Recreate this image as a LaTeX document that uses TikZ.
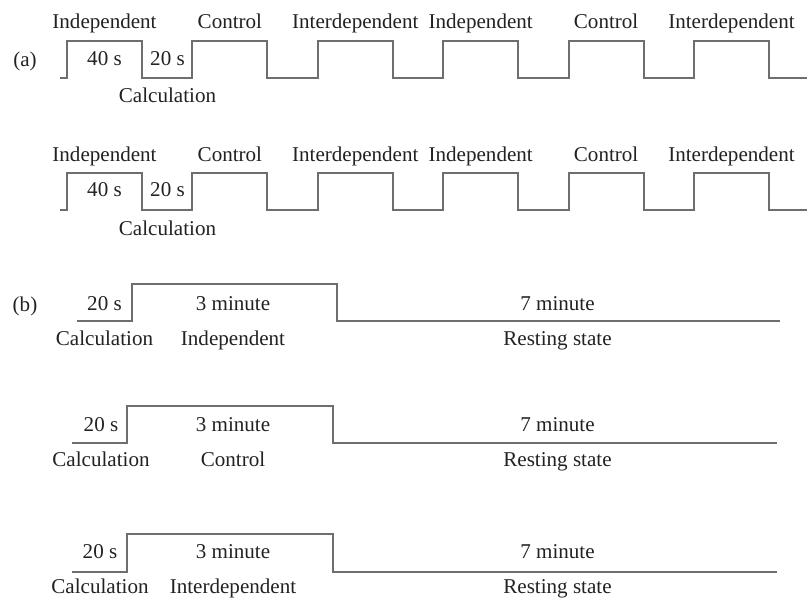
\documentclass[tikz,border=0pt]{standalone}
\usepackage{fontspec}
\setmainfont{Liberation Serif}
\usepackage{tikz}
\definecolor{wave}{HTML}{6E6E6E}
\definecolor{ink}{HTML}{222222}

\begin{document}
\begin{tikzpicture}[x=0.75pt,y=-0.75pt]
    \tikzstyle{n} = [inner sep=0pt,anchor=base,text=ink]
    \tikzstyle{w} = [draw=wave,line width=1.4pt]
    \tikzstyle{every node}=[font=\fontsize{15.8}{19}\selectfont]
    \useasboundingbox (0,0) rectangle (807,599);
    % (a): alternating blocks, two rows
    \node [n] (a) at (25,67) {(a)};
    \foreach \r/\yb/\yh/\yl/\ym/\yc in {1/78/41/28.3/66/103, 2/210/173/161.7/196.7/235} {
      \draw [w] (60,\yb) \foreach \k in {0,...,5} {
          -- ({67+125.4*\k},\yb) -- ({67+125.4*\k},\yh)
          -- ({142+125.4*\k},\yh) -- ({142+125.4*\k},\yb)} -- (807,\yb);
      \foreach \k/\lbl in {0/Independent,1/Control,2/Interdependent,3/Independent,4/Control,5/Interdependent}
        \node [n] (t\r\k) at ({104.5+125.4*\k},\yl) {\lbl};
      \node [n] (on\r) at (104.5,\ym) {40 s};
      \node [n] (off\r) at (167.5,\ym) {20 s};
      \node [n] (calc\r) at (167.5,\yc) {Calculation};
    }
    % (b): one block then rest
    \node [n] (b) at (25,311.7) {(b)};
    \foreach \r/\xs/\xu/\xd/\xe/\yb/\yh/\yl/\yc/\yr/\xc/\task in {
        1/77/132/337/780/321/284/310/345/345/104.5/Independent,
        2/72/127/333/777/443/406/431.7/466/466/101/Control,
        3/72/127/333/777/572/534/558/593/593/100/Interdependent} {
      \draw [w] (\xs,\yb) -- (\xu,\yb) -- (\xu,\yh) -- (\xd,\yh) -- (\xd,\yb) -- (\xe,\yb);
      \node [n] (pre\r) at (\xc,\yl) {20 s};
      \node [n] (calcb\r) at (\xc,\yc) {Calculation};
      \node [n] (blk\r) at (233,\yl) {3 minute};
      \node [n] (task\r) at (233,\yc) {\task};
      \node [n] (rest\r) at (557.5,\yl) {7 minute};
      \node [n] (rs\r) at (557.5,\yr) {Resting state};
    }
\end{tikzpicture}
\end{document}
